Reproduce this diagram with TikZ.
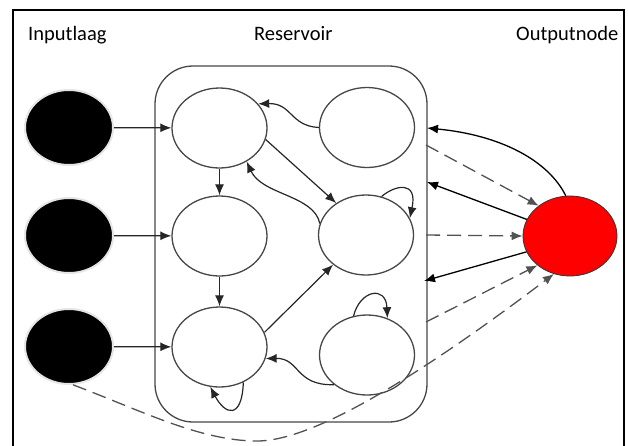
\documentclass[tikz,border=0pt]{standalone}
\usepackage{fontspec}
\setmainfont{Carlito}
\usetikzlibrary{shapes.geometric,arrows.meta}
\begin{document}
\begin{tikzpicture}[x=1pt,y=1pt,
  inp/.style={ellipse,fill=black,draw=black!10,line width=2pt,
    minimum width=88pt,minimum height=75pt,inner sep=0pt},
  neu/.style={ellipse,draw=black!72,line width=1.3pt,fill=white,
    minimum width=95pt,minimum height=80pt,inner sep=0pt},
  outn/.style={ellipse,fill=red,draw=black!80,line width=0.8pt,
    minimum width=94pt,minimum height=80pt,inner sep=0pt},
  lbl/.style={font=\fontsize{20.5}{24}\selectfont,inner sep=0pt},
  arr/.style={-{Latex[length=11pt,width=9pt]},line width=1.2pt,draw=black!85},
  sarr/.style={-{Latex[length=11pt,width=9pt]},line width=1.3pt,draw=black},
  darr/.style={-{Latex[length=11pt,width=9pt]},line width=1.3pt,draw=black!68,
    dash pattern=on 14pt off 7pt}]
\useasboundingbox (0,0) rectangle (628,-445);
% frame (open at the bottom)
\draw[line width=1.5pt] (13,-450) -- (13,-10) -- (624,-10) -- (624,-450);

% titles
\node[lbl,anchor=base west] (tin)  at (28,-40)  {Inputlaag};
\node[lbl,anchor=base west] (tres) at (254,-40) {Reservoir};
\node[lbl,anchor=base west] (tout) at (516,-40) {Outputnode};

% reservoir box
\node[draw=black!72,line width=1.3pt,rounded corners=38pt,
  minimum width=272pt,minimum height=356pt,inner sep=0pt] (res) at (291,-244) {};

% input layer
\node[inp] (in1) at (69,-127.5) {};
\node[inp] (in2) at (69,-235.5) {};
\node[inp] (in3) at (69,-346.5) {};

% reservoir neurons
\node[neu] (a1) at (219.5,-128) {};
\node[neu] (a2) at (219.5,-236) {};
\node[neu] (a3) at (219.5,-347) {};
\node[neu] (b1) at (367,-127.5) {};
\node[neu] (b2) at (366,-235) {};
\node[neu] (b3) at (367,-355) {};

% output node
\node[outn] (out) at (570,-236) {};

% points on the reservoir's right side
\coordinate (r1) at (427,-128);
\coordinate (r2) at (426,-145);
\coordinate (r3) at (427,-182);
\coordinate (r4) at (426,-235);
\coordinate (r5) at (424,-281);
\coordinate (r6) at (426,-322);

% inputs into the reservoir
\draw[arr] (in1) -- (a1);
\draw[arr] (in2) -- (a2);
\draw[arr] (in3) -- (a3);

% reservoir connections
\draw[arr] (a1) -- (a2);
\draw[arr] (a2) -- (a3);
\draw[arr] (a1.-14) -- (b2.133);
\draw[arr] (a3.18) -- (b2.222);
\draw[arr] (b2.166) .. controls (314,-195) and (262,-195) .. (a1.-51);
\draw[arr] (b1.180) .. controls (290,-126) and (292,-103) .. (a1.32);
\draw[arr] (b3.-138) .. controls (295,-386) and (300,-358) .. (a3.-14);
\draw[arr] (b2.68) .. controls (395,-185) and (418,-180) .. (b2.21);
\draw[arr] (b3.109) .. controls (360,-290) and (386,-285) .. (b3.61);
\draw[arr] (a3.-56) .. controls (242,-420) and (225,-415) .. (a3.-103);

% readout and feedback
\draw[sarr] (out.96) .. controls (548,-160) and (500,-135) .. (r1);
\draw[darr] (r2) -- (out.136);
\draw[sarr] (out.159) -- (r3);
\draw[darr] (r4) -- (out.180);
\draw[sarr] (out.200) -- (r5);
\draw[darr] (r6) -- (out.222);
\draw[darr] (in3.-84) .. controls (140,-410) and (200,-441) .. (257,-441)
  .. controls (320,-441) and (440,-360) .. (out.247);
\end{tikzpicture}
\end{document}
